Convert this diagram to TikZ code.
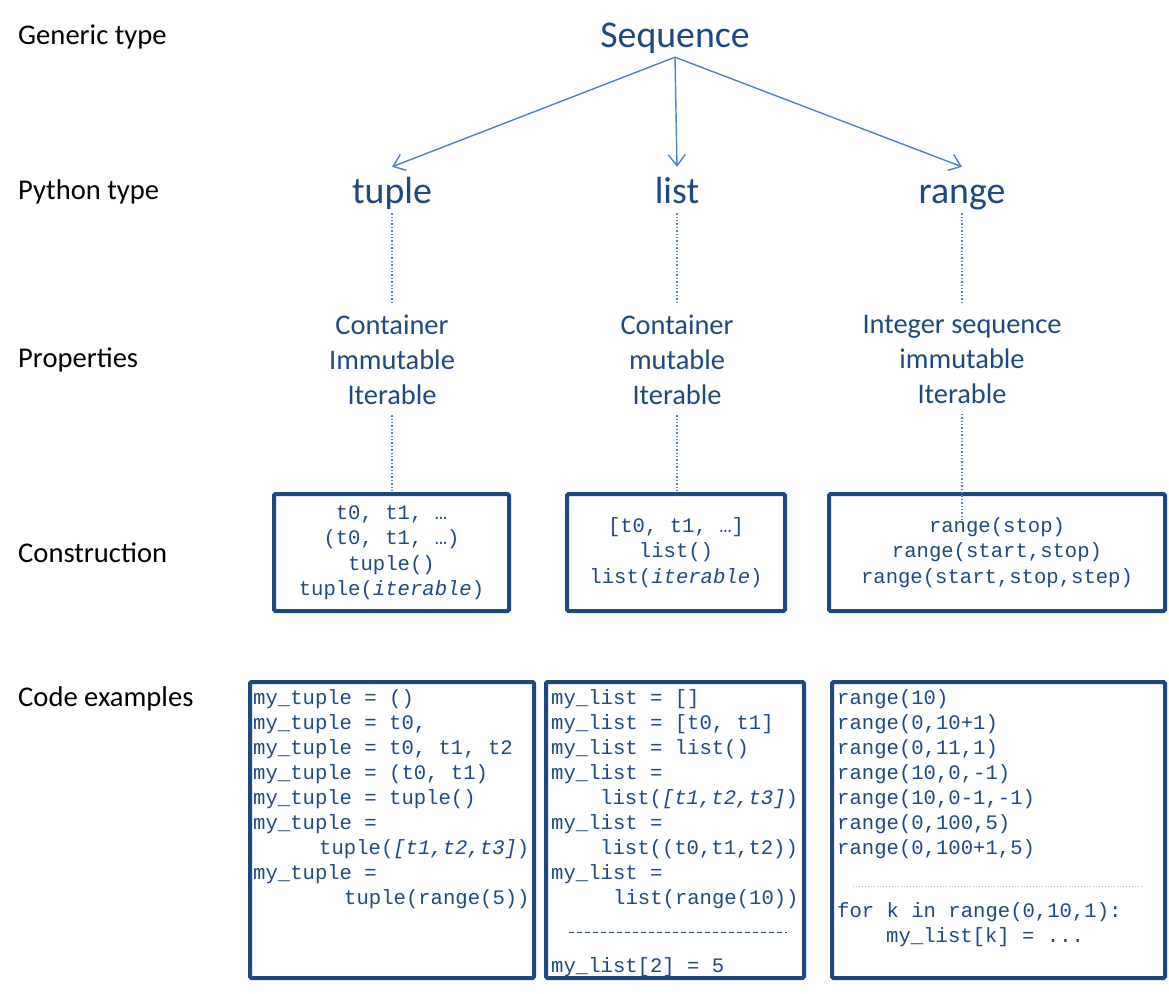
\documentclass[tikz,border=0pt]{standalone}
\usepackage{fontspec}
\setmainfont{Carlito}
\newfontfamily\codefont{Liberation Mono}
\usetikzlibrary{arrows.meta}

\definecolor{txtblue}{HTML}{1F497D}
\definecolor{linkblue}{HTML}{4F81BD}

\tikzset{
  rowlabel/.style={anchor=base west, inner sep=0pt, font=\fontsize{28.6}{34}\selectfont},
  typename/.style={anchor=base, text=txtblue, text height=34pt, text depth=8pt, inner sep=2pt, font=\fontsize{37.8}{45}\selectfont},
  props/.style={anchor=north, text=txtblue, align=center, inner sep=10pt, font=\fontsize{28.4}{35}\selectfont},
  consbox/.style={draw=txtblue, line width=4pt, rounded corners=1.5pt, text=txtblue, align=center, font=\codefont\fontsize{20.6}{25.5}\selectfont},
  codebox/.style={draw=txtblue, line width=4pt, rounded corners=1.5pt, inner sep=0pt},
  codetext/.style={anchor=north west, text=txtblue, align=left, inner sep=0pt, font=\codefont\fontsize{20.6}{25}\selectfont},
  isa/.style={draw=linkblue, line width=1.4pt, -{Straight Barb[length=11pt, width=17pt]}},
  link/.style={draw=linkblue, line width=1.4pt, dash pattern=on 1.4pt off 2pt},
}

\begin{document}
\begin{tikzpicture}[x=1pt,y=-1pt]
  \useasboundingbox (0,0) rectangle (1169,993);

  % Row labels
  \node[rowlabel] (lab_gen) at (18,44) {Generic type};
  \node[rowlabel] (lab_py) at (18,199) {Python type};
  \node[rowlabel] (lab_prop) at (18,367) {Properties};
  \node[rowlabel] (lab_cons) at (18,562) {Construction};
  \node[rowlabel] (lab_code) at (18,706) {Code examples};

  % Types
  \node[typename] (seq) at (675,47) {Sequence};
  \node[typename] (tuple) at (392,203) {tuple};
  \node[typename] (list) at (677,203) {list};
  \node[typename] (range) at (962,203) {range};

  % Properties
  \node[props] (p_tuple) at (392,305) {Container\\Immutable\\Iterable};
  \node[props] (p_list) at (677,305) {Container\\mutable\\Iterable};
  \node[props] (p_range) at (962,305) {Integer sequence\\immutable\\Iterable};

  % Construction
  \node[consbox, minimum width=235pt, minimum height=117pt] (c_tuple) at (391.5,552.5)
    {t0, t1, …\\(t0, t1, …)\\tuple()\\tuple(\textit{iterable})};
  \node[consbox, minimum width=218pt, minimum height=117pt] (c_list) at (676,552.5)
    {[t0, t1, …]\\list()\\list(\textit{iterable})};
  \node[consbox, minimum width=336pt, minimum height=117pt] (c_range) at (997,552.5)
    {range(stop)\\range(start,stop)\\range(start,stop,step)};
  \coordinate (c_range_end) at (962,520);

  % Code examples
  \node[codebox, minimum width=284pt, minimum height=296pt] (x_tuple) at (392,830) {};
  \node[codebox, minimum width=258pt, minimum height=296pt] (x_list) at (675,830) {};
  \node[codebox, minimum width=333pt, minimum height=296pt] (x_range) at (998.5,830) {};

  \node[codetext] (t_tuple) at (253,689) {my\_tuple = ()\\
    my\_tuple = t0,\\
    my\_tuple = t0, t1, t2\\
    my\_tuple = (t0, t1)\\
    my\_tuple = tuple()\\
    my\_tuple =\\
    \hspace*{66pt}tuple(\textit{[t1,t2,t3]})\\
    my\_tuple =\\
    \hspace*{91pt}tuple(range(5))};
  \node[codetext] (t_list) at (551,689) {my\_list = []\\
    my\_list = [t0, t1]\\
    my\_list = list()\\
    my\_list =\\
    \hspace*{49pt}list(\textit{[t1,t2,t3]})\\
    my\_list =\\
    \hspace*{49pt}list((t0,t1,t2))\\
    my\_list =\\
    \hspace*{62pt}list(range(10))\\[43pt]
    my\_list[2] = 5};
  \node[codetext] (t_range) at (837,689) {range(10)\\
    range(0,10+1)\\
    range(0,11,1)\\
    range(10,0,-1)\\
    range(10,0-1,-1)\\
    range(0,100,5)\\
    range(0,100+1,5)\\[38pt]
    for k in range(0,10,1):\\
    \hspace*{49pt}my\_list[k] = ...};

  % Separators
  \draw[txtblue, line width=0.8pt, dash pattern=on 5pt off 3pt] (569,932) -- (787,932);
  \draw[linkblue!55, line width=1pt, dash pattern=on 1pt off 2pt] (853,886) -- (1143,886);

  % Edges
  \draw[isa] (seq.south) -- (tuple.north);
  \draw[isa] (seq.south) -- (list.north);
  \draw[isa] (seq.south) -- (range.north);

  \draw[link] (tuple.south) -- (p_tuple.north);
  \draw[link] (list.south) -- (p_list.north);
  \draw[link] (range.south) -- (p_range.north);

  \draw[link] (p_tuple.south) -- (p_tuple.south |- c_tuple.north);
  \draw[link] (p_list.south) -- (p_list.south |- c_list.north);
  \draw[link] (p_range.south) -- (c_range_end);
\end{tikzpicture}
\end{document}
